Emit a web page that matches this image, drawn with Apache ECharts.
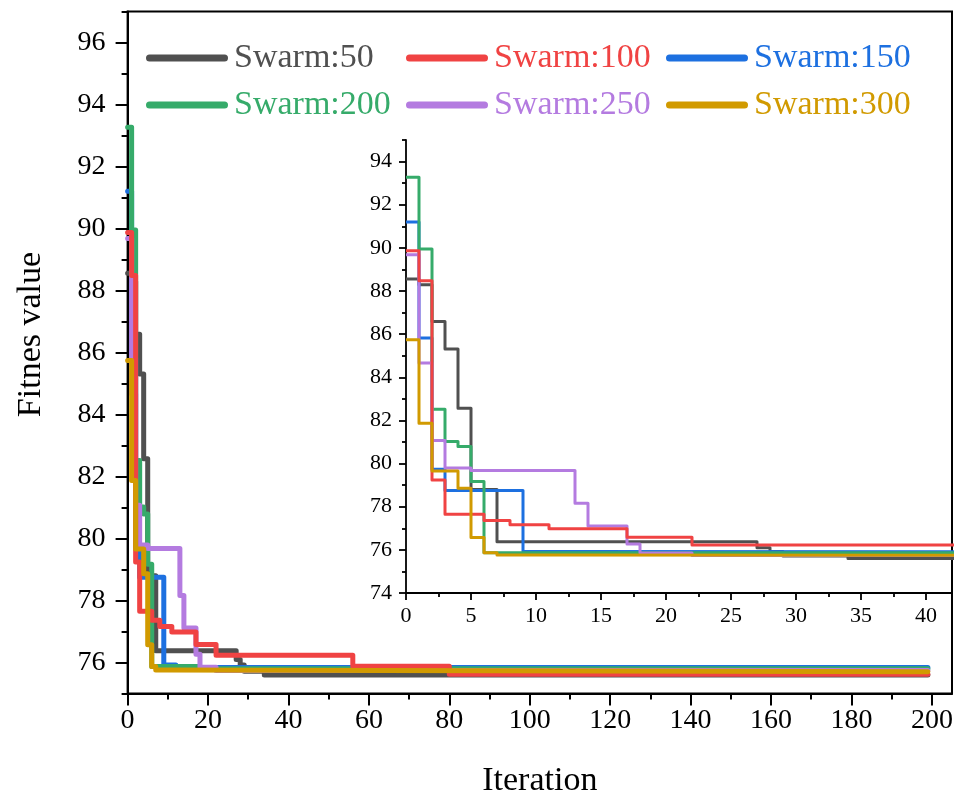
<!DOCTYPE html>
<html>
<head>
<meta charset="utf-8">
<script src="https://cdn.jsdelivr.net/npm/echarts@6/dist/echarts.min.js"></script>
<style>html,body{margin:0;padding:0;background:#fff;}#c{width:968px;height:801px;}</style>
</head>
<body>
<div id="c"></div>
<script>
// ---- data: [iteration, fitness] change points (step lines) ----
const swarm50  = [[0,88.56],[1,88.29],[2,86.59],[3,85.31],[4,82.57],[5,78.8],[7,76.38],[27,76.1],[28,75.92],[29,75.72],[34,75.6],[199,75.6]];
const swarm100 = [[0,89.87],[1,88.48],[2,79.24],[3,77.65],[6,77.36],[8,77.16],[11,76.98],[17,76.58],[22,76.23],[56,75.88],[80,75.62],[199,75.62]];
const swarm150 = [[0,91.2],[1,85.82],[2,79.74],[3,78.75],[9,75.92],[12,75.84],[199,75.83]];
const swarm200 = [[0,93.27],[1,89.95],[2,82.52],[3,81.02],[4,80.79],[5,79.17],[6,75.87],[18,75.8],[199,75.8]];
const swarm250 = [[0,89.68],[1,84.66],[2,81.07],[3,79.79],[5,79.68],[13,78.16],[14,77.11],[17,76.27],[18,75.85],[22,75.74],[199,75.74]];
const swarm300 = [[0,85.74],[1,81.87],[2,79.66],[4,78.86],[5,76.57],[6,75.87],[7,75.76],[10,75.7],[199,75.7]];

const seriesNames = ['Swarm:50','Swarm:100','Swarm:150','Swarm:200','Swarm:250','Swarm:300'];
const seriesData = [swarm50, swarm100, swarm150, swarm200, swarm250, swarm300];
const seriesColors = ['#505050','#f04343','#1d70e0','#36ab6a','#b47be0','#d19a00'];
const drawOrder = [0,2,3,4,1,5];

// tick values
const mainXMajor = [0,20,40,60,80,100,120,140,160,180,200];
const mainXMinor = [10,30,50,70,90,110,130,150,170,190];
const mainYMajor = [76,78,80,82,84,86,88,90,92,94,96];
const mainYMinor = [75,77,79,81,83,85,87,89,91,93,95,97];
const insetXMajor = [0,5,10,15,20,25,30,35,40];
const insetXMinor = [2.5,7.5,12.5,17.5,22.5,27.5,32.5,37.5];
const insetYMajor = [74,76,78,80,82,84,86,88,90,92,94];
const insetYMinor = [75,77,79,81,83,85,87,89,91,93,95];

const FONT = "'Liberation Serif','Times New Roman',serif";
const chart = echarts.init(document.getElementById('c'), null, {renderer:'canvas'});

function axis(type, grid, min, max, ticks, tickLen, labels, fontSize, margin, lineW, extra) {
  return Object.assign({
    type: 'value', gridIndex: grid, min: min, max: max,
    position: type === 'x' ? 'bottom' : 'left',
    splitLine: {show: false},
    axisLine: {show: !!labels, onZero: false, lineStyle: {color: '#000', width: lineW}},
    axisTick: {show: true, inside: false, length: tickLen, customValues: ticks, lineStyle: {color: '#000', width: lineW}},
    axisLabel: labels ? {show: true, customValues: labels, fontFamily: FONT, fontSize: fontSize, color: '#000', margin: margin, hideOverlap: false} : {show: false}
  }, extra || {});
}

const xAxes = [
  axis('x', 0, 0, 205, mainXMajor, 12, mainXMajor, 28, 13, 2, {
    name: 'Iteration', nameLocation: 'middle', nameGap: 71, nameMoveOverlap: false,
    nameTextStyle: {fontFamily: FONT, fontSize: 34, color: '#000'}
  }),
  axis('x', 0, 0, 205, mainXMinor, 6, null, 28, 13, 2),
  axis('x', 1, 0, 42, insetXMajor, 7, insetXMajor, 22, 12, 1.8),
  axis('x', 1, 0, 42, insetXMinor, 4, null, 22, 12, 1.8)
];
const yAxes = [
  axis('y', 0, 75, 97, mainYMajor, 12, mainYMajor, 28, 22, 2, {
    name: 'Fitnes value', nameLocation: 'middle', nameGap: 80, nameMoveOverlap: false,
    nameTextStyle: {fontFamily: FONT, fontSize: 34, color: '#000', padding: [0, 0, 0, 36]}
  }),
  axis('y', 0, 75, 97, mainYMinor, 6, null, 28, 22, 2),
  axis('y', 1, 74, 95, insetYMajor, 7, insetYMajor, 22, 14, 1.8),
  axis('y', 1, 74, 95, insetYMinor, 4, null, 22, 14, 1.8)
];

const series = [];
drawOrder.forEach(function(i, k) {
  series.push({
    name: seriesNames[i], type: 'line', xAxisIndex: 0, yAxisIndex: 0,
    data: seriesData[i], step: 'end', showSymbol: false, symbol: 'none',
    lineStyle: {color: seriesColors[i], width: 5, cap: 'round', join: 'round'},
    itemStyle: {color: seriesColors[i]}, z: 2 + k, clip: true,
    emphasis: {disabled: true}
  });
});
drawOrder.forEach(function(i, k) {
  series.push({
    name: seriesNames[i], type: 'line', xAxisIndex: 2, yAxisIndex: 2,
    data: seriesData[i], step: 'end', showSymbol: false, symbol: 'none',
    lineStyle: {color: seriesColors[i], width: 3, join: 'round'},
    itemStyle: {color: seriesColors[i]}, z: 2 + k, clip: true,
    emphasis: {disabled: true}
  });
});

function legendCol(left, idxs) {
  return {
    orient: 'vertical', left: left, top: 36, itemGap: 13,
    itemWidth: 82, itemHeight: 7, selectedMode: false,
    icon: 'path://M3.5,0 H78.5 A3.5,3.5 0 0 1 78.5,7 H3.5 A3.5,3.5 0 0 1 3.5,0 Z',
    textStyle: {fontFamily: FONT, fontSize: 34, lineHeight: 34, padding: [0, 0, 0, 1]},
    data: idxs.map(function(i) {
      return {name: seriesNames[i], itemStyle: {color: seriesColors[i]}, textStyle: {color: seriesColors[i]}};
    })
  };
}

chart.setOption({
  animation: false,
  backgroundColor: '#fff',
  grid: [
    {left: 127.6, top: 11.5, right: 16, bottom: 107.5, show: true, borderColor: '#000', borderWidth: 2, backgroundColor: 'transparent', containLabel: false, outerBoundsMode: 'none'},
    {left: 406, top: 140, right: 16, bottom: 208, show: false, containLabel: false, outerBoundsMode: 'none'}
  ],
  legend: [legendCol(141, [0, 3]), legendCol(401, [1, 4]), legendCol(661, [2, 5])],
  xAxis: xAxes,
  yAxis: yAxes,
  series: series
});
</script>
</body>
</html>
